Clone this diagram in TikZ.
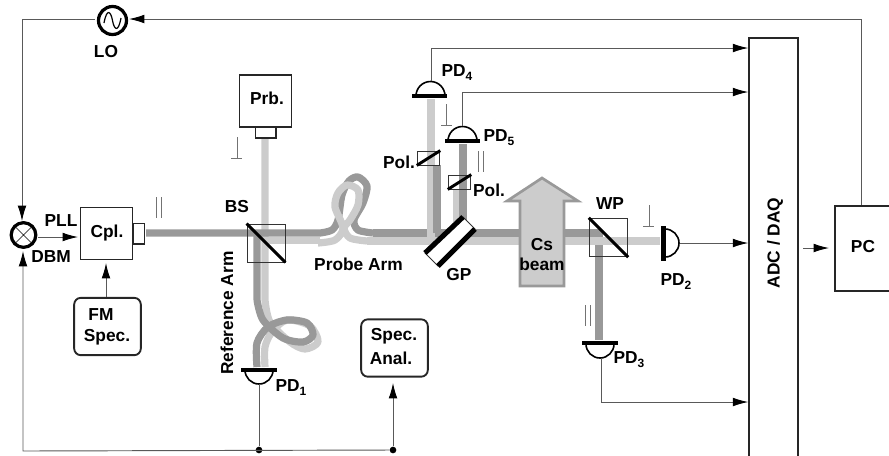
\documentclass[tikz,border=0pt]{standalone}
\usepackage{fontspec}
\setmainfont{Liberation Sans}
\usetikzlibrary{arrows.meta}
\definecolor{darkbeam}{gray}{0.60}
\definecolor{lightbeam}{gray}{0.80}
\definecolor{wire}{gray}{0.35}
\newcommand{\subdig}[1]{\raisebox{-3pt}{\fontsize{9}{9}\selectfont #1}}
\tikzset{
  lab/.style={font=\fontsize{13}{15}\bfseries\selectfont,inner sep=0pt,align=center},
  boxnode/.style={draw=black!85,line width=1.4pt,fill=white,inner sep=0pt,font=\fontsize{13}{15}\bfseries\selectfont},
  nozzle/.style={draw=black!85,line width=1pt,fill=white,inner sep=0pt},
  rbox/.style={boxnode,rounded corners=5pt},
  wireline/.style={draw=wire,line width=0.7pt},
  arr/.style={wireline,-{Latex[length=11.5pt,width=6.5pt,black]}},
  dbeam/.style={draw=darkbeam,line width=5.4pt,line join=round},
  lbeam/.style={draw=lightbeam,line width=5.4pt,line join=round},
  cube/.style={draw=black!80,line width=0.6pt,inner sep=0pt},
  mirror/.style={draw=black,line width=2.2pt},
  polmark/.style={draw=black!55,line width=0.7pt},
  barline/.style={draw=black,line width=3.6pt},
  dome/.style={draw=black,line width=1.2pt,fill=white},
  dot/.style={circle,fill=black,inner sep=0pt,minimum size=5pt},
  ringnode/.style={circle,draw=black,line width=2.4pt,fill=white,inner sep=0pt}
}
\begin{document}
\begin{tikzpicture}[x=0.75pt,y=-0.75pt]
\useasboundingbox (0,0) rectangle (889,455);
\clip (0,0) rectangle (889,455);

% ---------- beams
\coordinate (gD4) at (437,233);
\coordinate (gD5) at (463,233);
\coordinate (gL4) at (431,241);
\coordinate (gL5) at (457,241);
\coordinate (wpD) at (599,233);

% light, reference arm with loop
\draw[lbeam] (265,138) -- (265,300) plot[smooth] coordinates {(265,300) (270,322) (290,342) (305,349) (318,342) (310,326) (287,320) (272,332) (265,347) (265,367)};
\draw[lbeam] (265,240.5) -- (320,240.5);
% dark, reference arm with loop
\draw[dbeam] (257,233) -- (257,300) plot[smooth] coordinates {(257,300) (263,320) (283,338) (303,342) (313,335) (307,323) (287,320) (268,327) (257,343) (257,367)};
% dark, main line with probe loop
\draw[dbeam] (146,233) -- (320,233) plot[smooth] coordinates {(320,233) (332,230) (338,220) (342,195) (349,181) (358,177) (367,186) (363,203) (354,220) (358,230) (373,233)};
\draw[dbeam] (373,233) -- (wpD) -- (599,340);
% light, probe loop and onward
\draw[lbeam] plot[smooth] coordinates {(318,243) (335,240) (343,228) (335,207) (338,193) (347,185) (358,190) (358,205) (350,220) (344,228) (350,238) (367,241)};
\draw[lbeam] (367,241) -- (660,241);
\draw[lbeam] (431,99) -- (gL4);
\draw[lbeam] (gL5) -- (457,189);
\draw[dbeam] (gD4) -- (437,165);
\draw[dbeam] (gD5) -- (463,144);

% ---------- Cs beam arrow
\draw[fill=lightbeam,draw=darkbeam,line width=2pt,miter limit=10]
  (542,178) -- (578,201) -- (564,201) -- (564,286) -- (520,286) -- (520,201) -- (507,201) -- cycle;
\node[lab] (cs) at (542,254.5) {Cs\\beam};

% ---------- GP
\fill[white] (425,253) -- (463,217) -- (475,229) -- (438,266) -- cycle;
\draw[draw=black!80,line width=0.6pt] (425,253) -- (463,217) -- (475,229) -- (438,266) -- cycle;
\draw[line width=3.8pt] (425,253) -- (463,217);
\draw[line width=3.8pt] (438,266) -- (475,229);
\node[lab] (gp) at (459,275) {GP};

% ---------- cubes
\node[cube,minimum width=28.5pt,minimum height=28.5pt] (bs) at (266,243) {};
\draw[mirror] (bs.north west) -- (bs.south east);
\node[lab] (bslab) at (237,207) {BS};
\node[cube,minimum width=29pt,minimum height=29pt] (wp) at (608.5,237.5) {};
\draw[mirror] (wp.north west) -- (wp.south east);
\node[lab] (wplab) at (610,204) {WP};

% ---------- polarisers
\node[cube,minimum width=17pt,minimum height=10.5pt] (pola) at (428.5,158) {};
\draw[mirror] (pola.south west) -- (pola.north east);
\node[lab] (polalab) at (399,162) {Pol.};
\node[cube,minimum width=17pt,minimum height=10.5pt] (polb) at (459.5,182) {};
\draw[mirror] (polb.south west) -- (polb.north east);
\node[lab] (polblab) at (489,190) {Pol.};

% ---------- boxes
\node[boxnode,minimum width=39pt,minimum height=39pt] (prb) at (265.5,101) {};
\node[lab] (prblab) at (267,98) {Prb.};
\node[nozzle,minimum width=15.5pt,minimum height=8pt] (prbn) at (265.5,132.5) {};
\node[boxnode,minimum width=39pt,minimum height=39pt] (cpl) at (106.5,233.5) {};
\node[lab] (cpllab) at (107,233) {Cpl.};
\node[nozzle,minimum width=8pt,minimum height=15.5pt] (cpln) at (139,233.5) {};
\node[rbox,minimum width=50pt,minimum height=43pt] (fm) at (107.5,326.5) {};
\node[lab] (fmlab) at (101,315) {FM};
\node[lab] (speclab) at (107,337) {Spec.};
\node[rbox,minimum width=50pt,minimum height=43pt] (sa) at (394.5,348) {};
\node[lab] (salab) at (394,336) {Spec.};
\node[lab] (salabb) at (391,358) {Anal.};
\node[boxnode,minimum width=36.5pt,minimum height=330pt] (adc) at (773.5,258) {};
\node[lab,rotate=90] (adclab) at (775,243) {ADC / DAQ};
\node[boxnode,minimum width=60pt,minimum height=63.5pt] (pc) at (875,248.5) {};
\node[lab] (pclab) at (863,247) {PC};

% ---------- photodiodes
\draw[dome] (245,370) arc[start angle=180,end angle=0,radius=14];
\draw[barline] (241,370) -- (277,370);
\node[lab] (pd1) at (291,388) {PD\subdig{1}};
\coordinate (pd1w) at (259,384);

\draw[dome] (665,229) arc[start angle=-90,end angle=90,radius=14];
\draw[barline] (663.5,226) -- (663.5,261);
\node[lab] (pd2) at (676,282) {PD\subdig{2}};
\coordinate (pd2w) at (680,243);

\draw[dome] (586,344) arc[start angle=180,end angle=0,radius=14];
\draw[barline] (582,343) -- (618,343);
\node[lab] (pd3) at (629,360) {PD\subdig{3}};
\coordinate (pd3w) at (601,358);

\draw[dome] (416,96) arc[start angle=180,end angle=360,radius=14.5];
\draw[barline] (412,96) -- (447,96);
\node[lab] (pd4) at (457,73) {PD\subdig{4}};
\coordinate (pd4w) at (431,81);

\draw[dome] (448,141) arc[start angle=180,end angle=360,radius=14.5];
\draw[barline] (445,141) -- (480,141);
\node[lab] (pd5) at (499,138) {PD\subdig{5}};
\coordinate (pd5w) at (462,126);

% ---------- LO & mixer
\node[ringnode,minimum size=21pt] (lo) at (112.5,20.5) {};
\draw[line width=0.9pt] (104,23) .. controls (107,7) and (111,12) .. (112.5,20.5) .. controls (114,29) and (118,34) .. (121,18);
\node[lab] (lolab) at (106,52) {LO};
\node[ringnode,minimum size=18.5pt] (mix) at (23.5,235) {};
\draw[line width=0.5pt] (mix.north west) -- (mix.south east) (mix.north east) -- (mix.south west);
\node[lab] (pll) at (61,221) {PLL};
\node[lab] (dbm) at (51,257) {DBM};

% ---------- wires
\coordinate (pctop) at (861,19);
\coordinate (lor) at (129,19);
\coordinate (loleft) at (22,19);
\coordinate (lol) at (95,19);
\draw[arr] (pctop |- pc.north) -- (pctop) -- (lor);
\draw[arr] (lol) -- (loleft) -- (22,221);
\draw[arr] (38,237) -- (78,237);
\coordinate (fmt) at (106,297);
\draw[arr] (fmt) -- (106,263);
\coordinate (sw) at (23,451);
\node[dot] (j1) at (259,450) {};
\node[dot] (j2) at (393,450) {};
\draw[arr] (j2) -- (sw) -- (23,251);
\draw[wireline] (pd1w) -- (j1);
\draw[arr] (j2) -- (393,383);
\draw[arr] (pd2w) -- (adc.west |- pd2w);
\draw[arr] (pd3w) |- (adc.west |- 0,402);
\draw[arr] (pd4w) |- (adc.west |- 0,48);
\draw[arr] (pd5w) |- (adc.west |- 0,92);
\coordinate (adco) at (803,248);
\coordinate (pci) at (829,248);
\draw[arr] (adco) -- (pci);

% ---------- polarisation marks
\draw[polmark] (237,137) -- (237,158) (231,158) -- (242,158);
\draw[polmark] (156,197) -- (156,218) (161,197) -- (161,218);
\draw[polmark] (446,104) -- (446,125) (441,125) -- (452,125);
\draw[polmark] (478,151) -- (478,172) (483,151) -- (483,172);
\draw[polmark] (649,205) -- (649,226) (643,226) -- (654,226);
\draw[polmark] (585,305) -- (585,326) (590,305) -- (590,326);

% ---------- labels
\node[lab] (probearm) at (358.5,264) {Probe Arm};
\node[lab,rotate=90] (refarm) at (227,313) {Reference Arm};
\end{tikzpicture}
\end{document}
